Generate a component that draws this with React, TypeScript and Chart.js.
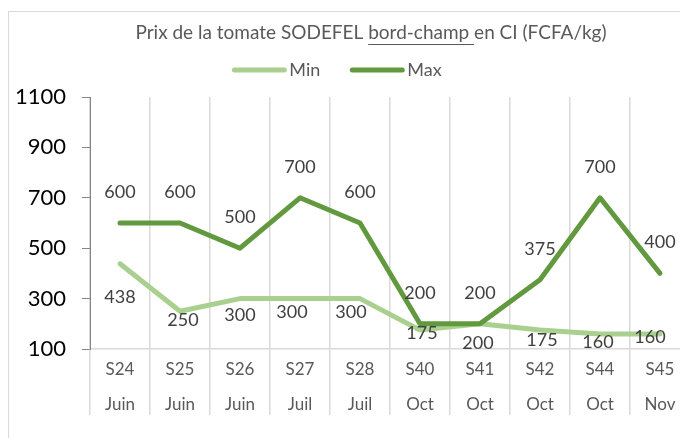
import React, { useEffect, useRef } from "react";
import { Chart, registerables } from "chart.js";

Chart.register(...registerables);

// ---- data ----
const weeks = ["S24", "S25", "S26", "S27", "S28", "S40", "S41", "S42", "S44", "S45"];
const months = ["Juin", "Juin", "Juin", "Juil", "Juil", "Oct", "Oct", "Oct", "Oct", "Nov"];
const minValues = [438, 250, 300, 300, 300, 175, 200, 175, 160, 160];
const maxValues = [600, 600, 500, 700, 600, 200, 200, 375, 700, 400];
const seriesNames = ["Min", "Max"];
const titleParts = ["Prix de la tomate SODEFEL ", "bord-champ ", "en CI (FCFA/kg)"];
const yMin = 100;
const yMax = 1100;
const yStep = 200;

// ---- styles ----
const FONT = "Lato, 'Open Sans', sans-serif";
const LIGHT = "#a9d08e";
const DARK = "#62993e";
const maxLabelOffset = [0, -31];
const minLabelOffsets = [
  [0, 33], [3, 9], [0, 17], [-8, 14], [-9, 14],
  [2, 3], [-2, 19], [2, 10], [-2, 8], [-10, 3],
];

const decorations = {
  id: "decorations",
  beforeDraw(chart: any) {
    const ctx = chart.ctx;
    ctx.save();
    ctx.fillStyle = "#ffffff";
    ctx.fillRect(0, 0, chart.width, chart.height);
    ctx.strokeStyle = "#d9d9d9";
    ctx.lineWidth = 1;
    ctx.strokeRect(8.5, 11.5, chart.width + 50, chart.height + 50);
    ctx.restore();
  },
  afterDraw(chart: any) {
    const ctx = chart.ctx;
    ctx.save();
    // title
    ctx.font = `19px ${FONT}`;
    ctx.fillStyle = "#595959";
    ctx.textBaseline = "middle";
    ctx.textAlign = "left";
    const widths = titleParts.map((t) => ctx.measureText(t).width);
    const total = widths.reduce((a, b) => a + b, 0);
    let x = 371 - total / 2;
    const ty = 33;
    titleParts.forEach((t, i) => {
      ctx.fillText(t, x, ty);
      if (i === 1) {
        ctx.strokeStyle = "#595959";
        ctx.lineWidth = 1;
        ctx.beginPath();
        ctx.moveTo(x, ty + 11.5);
        ctx.lineTo(x + widths[i], ty + 11.5);
        ctx.stroke();
      }
      x += widths[i];
    });
    // legend
    ctx.font = `18px ${FONT}`;
    const colors = [LIGHT, DARK];
    const lineLen = 54;
    const gap = 3;
    const spacing = 30;
    const tw = seriesNames.map((n) => ctx.measureText(n).width);
    const legendTotal = tw.reduce((a, w) => a + lineLen + gap + w, 0) + spacing * (seriesNames.length - 1);
    let lx = 337 - legendTotal / 2;
    const ly = 70;
    seriesNames.forEach((n, i) => {
      ctx.strokeStyle = colors[i];
      ctx.lineWidth = 5;
      ctx.lineCap = "round";
      ctx.beginPath();
      ctx.moveTo(lx + 2, ly);
      ctx.lineTo(lx + lineLen - 2, ly);
      ctx.stroke();
      ctx.fillStyle = "#595959";
      ctx.fillText(n, lx + lineLen + gap, ly);
      lx += lineLen + gap + tw[i] + spacing;
    });
    ctx.restore();
  },
  afterDatasetsDraw(chart: any) {
    const ctx = chart.ctx;
    ctx.save();
    ctx.font = `18px ${FONT}`;
    ctx.fillStyle = "#404040";
    ctx.textAlign = "center";
    ctx.textBaseline = "middle";
    chart.data.datasets.forEach((ds: any, di: number) => {
      const meta = chart.getDatasetMeta(di);
      meta.data.forEach((pt: any, i: number) => {
        const off = ds.label === "Max" ? maxLabelOffset : minLabelOffsets[i];
        ctx.fillText(String(ds.data[i]), pt.x + off[0], pt.y + off[1]);
      });
    });
    ctx.restore();
  },
};

export default function App() {
  const ref = useRef<HTMLCanvasElement>(null);
  useEffect(() => {
    const canvas = ref.current;
    if (!canvas) return;
    const chart = new Chart(canvas, {
      type: "line",
      data: {
        labels: weeks.map((w, i) => [w, months[i]]),
        datasets: [
          {
            label: seriesNames[0],
            data: minValues,
            borderColor: LIGHT,
            backgroundColor: LIGHT,
            borderWidth: 5,
            pointRadius: 0,
            tension: 0,
            borderJoinStyle: "round",
            borderCapStyle: "round",
            order: 1,
          },
          {
            label: seriesNames[1],
            data: maxValues,
            borderColor: DARK,
            backgroundColor: DARK,
            borderWidth: 5,
            pointRadius: 0,
            tension: 0,
            borderJoinStyle: "round",
            borderCapStyle: "round",
            order: 0,
          },
        ],
      },
      options: {
        responsive: false,
        animation: false,
        devicePixelRatio: 1,
        layout: { padding: { left: 8, right: 10, top: 97, bottom: 0 } },
        plugins: {
          legend: { display: false },
          title: { display: false },
          tooltip: { enabled: false },
        },
        scales: {
          x: {
            type: "category",
            offset: true,
            grid: { offset: true, color: "#d9d9d9", lineWidth: 1.5, tickLength: 66, drawTicks: true },
            border: { color: "#d9d9d9", width: 1.5 },
            ticks: {
              padding: -63,
              color: "#595959",
              font: { family: FONT, size: 17, lineHeight: 2.05 },
              maxRotation: 0,
              autoSkip: false,
            },
            afterFit: (s: any) => {
              s.height = 89;
            },
          },
          y: {
            min: yMin,
            max: yMax,
            ticks: {
              stepSize: yStep,
              color: "#000000",
              font: { family: FONT, size: 22 },
              padding: 16,
              callback: (v: any) => String(v),
            },
            grid: { drawOnChartArea: false, color: "#868686", tickLength: 8 },
            border: { color: "#868686", width: 1 },
            afterFit: (s: any) => {
              s.width = 82;
            },
          },
        },
      },
      plugins: [decorations],
    } as any);
    return () => chart.destroy();
  }, []);
  return (
    <div style={{ position: "fixed", left: 0, top: 0, width: 680, height: 438, overflow: "hidden", background: "#fff" }}>
      <canvas ref={ref} width={700} height={438} style={{ display: "block", width: 700, height: 438 }} />
    </div>
  );
}
